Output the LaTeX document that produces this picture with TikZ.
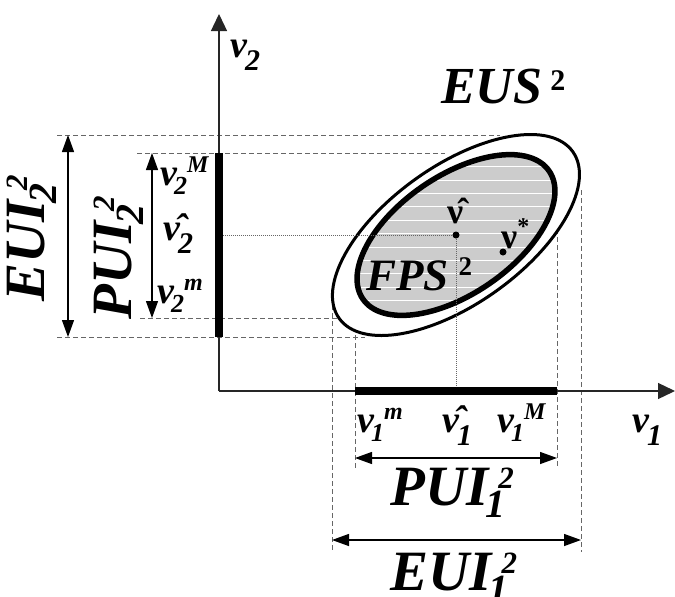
\documentclass[tikz,border=0pt]{standalone}
\usepackage{fontspec}
\setmainfont{Liberation Serif}
\usetikzlibrary{arrows.meta}
\newcommand{\fs}[1]{\fontsize{#1}{#1}\selectfont}
\newcommand{\nuaxis}[1]{{\fs{38}ν}\kern-2pt\raisebox{-13pt}{\fs{30}#1}}
\newcommand{\nuvar}[2]{{\fs{38}ν}\kern-3pt\raisebox{-9pt}{\fs{26}#1}\raisebox{13pt}{\fs{24}#2}}
\newcommand{\nuhat}[1]{{\fs{38}\^{ν}}\kern-2pt\raisebox{-13pt}{\fs{30}#1}}
\newcommand{\intsym}[3]{{\fs{57}#1}\rlap{\kern-3pt\raisebox{-12pt}{\fs{40}#2}}\kern10pt\raisebox{17pt}{\fs{31}#3}}
\tikzset{
  axis/.style={line width=1.3pt, draw=black!85, -{Triangle[length=17pt,width=16pt]}},
  bar/.style={line width=7.5pt, line cap=butt},
  guide/.style={draw=black!60, line width=0.9pt, dash pattern=on 5pt off 3pt},
  dotguide/.style={draw=black!60, line width=0.8pt, dash pattern=on 1pt off 1pt},
  dimarrow/.style={line width=1.3pt,
                   {Triangle[length=17pt,width=12pt]}-{Triangle[length=17pt,width=12pt]}},
  stripe/.style={draw=white, line width=1.1pt},
  symlabel/.style={anchor=base west, inner sep=0pt, font=\bfseries\itshape},
  solution/.style={circle, fill=black, inner sep=0pt, minimum size=7pt}
}
\begin{document}
\begin{tikzpicture}[x=1pt, y=-1pt]
\useasboundingbox (0,0) rectangle (675,597);
% key points
\coordinate (O) at (219,391);
\coordinate (ytip) at (219,14);
\coordinate (xtip) at (675,391);
\coordinate (vhat) at (456,235);
\coordinate (vhatx) at (456,391);
\coordinate (vhaty) at (219,235);
% dashed guides to the interval ends
\foreach \xa/\ya/\xb/\yb in {57/135/500/135, 137/153/445/153, 140/318/380/318,
                            57/337/365/337, 332/297/332/550, 355/287/355/468,
                            557/205/557/468, 581/190/581/552}
  \draw[guide] (\xa,\ya) -- (\xb,\yb);
% EUS and FPS
\draw[line width=3pt, fill=white, rotate around={35.5:(vhat)}]
  (vhat) ellipse [x radius=143.5, y radius=69];
\fill[black!20, rotate around={34.5:(vhat)}]
  (vhat) ellipse [x radius=113, y radius=59];
\begin{scope}
  \clip[rotate around={34.5:(vhat)}] (vhat) ellipse [x radius=113, y radius=59];
  \foreach \k in {0,...,11}
    \draw[stripe] (330,166.7+13.4*\k) -- (580,166.7+13.4*\k);
\end{scope}
\draw[line width=5.5pt, rotate around={34.5:(vhat)}]
  (vhat) ellipse [x radius=113, y radius=59];
\draw[dotguide] (vhat) -- (vhaty);
\draw[dotguide] (vhat) -- (vhatx);
% axes
\draw[axis] (O) -- (ytip);
\draw[axis] (O) -- (xtip);
\draw[bar] (219,153) -- (219,337);
\draw[bar] (355,391) -- (557,391);
\node[solution] (pvhat) at (vhat) {};
\node[solution] (pvstar) at (503,252) {};
% interval arrows
\coordinate (euiyT) at (68,135);
\coordinate (euiyB) at (68,337);
\coordinate (puiyT) at (152,153);
\coordinate (puiyB) at (152,318);
\coordinate (puixL) at (355,458);
\coordinate (puixR) at (557,458);
\coordinate (euixL) at (332,540);
\coordinate (euixR) at (581,540);
\draw[dimarrow] (euiyT) -- (euiyB);
\draw[dimarrow] (puiyT) -- (puiyB);
\draw[dimarrow] (puixL) -- (puixR);
\draw[dimarrow] (euixL) -- (euixR);
% labels
\node[symlabel] (nuaxy) at (230,57) {\nuaxis{2}};
\node[symlabel] (nuaxx) at (632,432) {\nuaxis{1}};
\node[symlabel] (nuyM) at (160,185) {\nuvar{2}{M}};
\node[symlabel] (nuyhat) at (163,240) {\nuhat{2}};
\node[symlabel] (nuym) at (157,303) {\nuvar{2}{m}};
\node[symlabel] (nuxm) at (357,432) {\nuvar{1}{m}};
\node[symlabel] (nuxhat) at (442,432) {\nuhat{1}};
\node[symlabel] (nuxM) at (497,432) {\nuvar{1}{M}};
\node[symlabel] (lvhat) at (447,223) {\upshape\fs{36}\^{ν}};
\node[symlabel] (lvstar) at (501,248) {\upshape{\fs{36}ν}\raisebox{14pt}{\fs{24}*}};
\node[symlabel] (leus) at (441,103) {{\fs{52}EUS}\kern8pt\raisebox{13pt}{\upshape\fs{30}2}};
\node[symlabel] (lfps) at (366,290) {{\fs{45}FPS}\kern10pt\raisebox{15pt}{\upshape\fs{27}2}};
\node[symlabel] (lpuix) at (390,505) {\intsym{PUI}{1}{2}};
\node[symlabel] (leuix) at (390,590) {\intsym{EUI}{1}{2}};
\node[symlabel, rotate=90] (leuiy) at (44,302) {\intsym{EUI}{2}{2}};
\node[symlabel, rotate=90] (lpuiy) at (131,320) {\intsym{PUI}{2}{2}};
\end{tikzpicture}
\end{document}
